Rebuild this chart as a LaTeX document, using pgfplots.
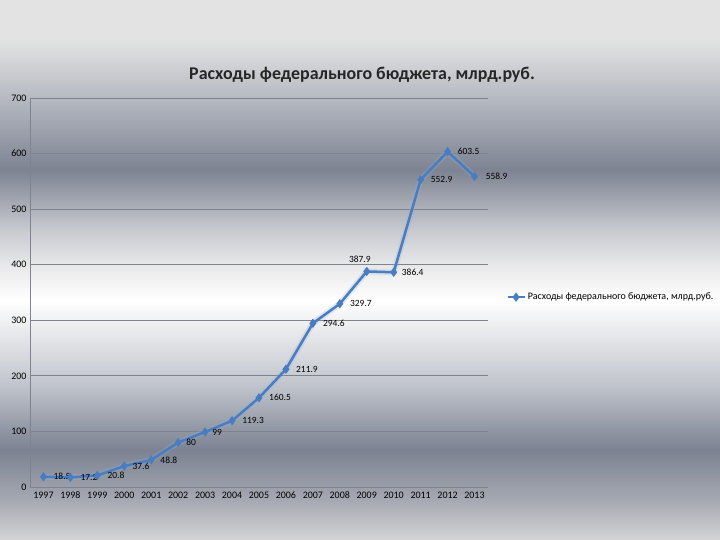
\documentclass[border=0pt]{standalone}
\usepackage{pgfplots}
\pgfplotsset{compat=1.18}
\usepackage{pgfplotstable}
\usepackage{fontspec}
\setmainfont{Carlito}
\definecolor{bgA}{HTML}{E3E3E3}
\definecolor{bgB}{HTML}{E3E3E3}
\definecolor{bgC}{HTML}{B4B8C0}
\definecolor{bgD}{HTML}{7D8392}
\definecolor{bgE}{HTML}{C8CAD0}
\definecolor{bgF}{HTML}{E8E8EA}
\definecolor{bgG}{HTML}{FFFFFF}
\definecolor{bgH}{HTML}{E6E7EA}
\definecolor{bgI}{HTML}{C0C4CC}
\definecolor{bgJ}{HTML}{7C8292}
\definecolor{bgK}{HTML}{A5A9B2}
\definecolor{bgL}{HTML}{D4D4D6}
\definecolor{gridc}{HTML}{7E838D}
\definecolor{linec}{HTML}{4A7DBF}
\pgfdeclareverticalshading{bgsh}{100bp}{color(0bp)=(bgL); color(25bp)=(bgL); color(28.7bp)=(bgK); color(33.33bp)=(bgJ); color(39.35bp)=(bgI); color(43.98bp)=(bgH); color(47.22bp)=(bgG); color(50.46bp)=(bgF); color(53.7bp)=(bgE); color(59.26bp)=(bgD); color(65.74bp)=(bgC); color(71.3bp)=(bgB); color(75bp)=(bgA); color(100bp)=(bgA)}
\pgfplotstableread{
x y lab dx
1997 18.5 18.5 8
1998 17.2 17.2 8
1999 20.8 20.8 8
2000 37.6 37.6 6
2001 48.8 48.8 7
2002 80 80 6
2003 99 99 5
2004 119.3 119.3 8
2005 160.5 160.5 8
2006 211.9 211.9 8
2007 294.6 294.6 8
2008 329.7 329.7 8
2009 387.9 387.9 0
2010 386.4 386.4 6
2011 552.9 552.9 8
2012 603.5 603.5 8
2013 558.9 558.9 9
}\datatable
\begin{document}
\begin{tikzpicture}
\useasboundingbox (0,0) rectangle (720bp,540bp);
\shade[shading=bgsh] (0,0) rectangle (720bp,540bp);
\node[font=\bfseries\fontsize{18}{21}\selectfont, text=black!85] at (362bp,465bp) {Расходы федерального бюджета, млрд.руб.};
\begin{axis}[
  at={(30bp,53bp)}, anchor=south west,
  width=458bp, height=389bp, scale only axis,
  xmin=1996.5, xmax=2013.5, ymin=0, ymax=700,
  xtick={1997,...,2013}, ytick={0,100,...,700},
  x tick label style={/pgf/number format/1000 sep={}},
  /pgf/number format/assume math mode=true,
  tick label style={font=\fontsize{10}{11}\selectfont, text=black},
  xticklabel style={yshift=-1bp, text height=7bp, text depth=0bp},
  major tick length=0pt,
  axis x line*=bottom, axis y line*=left,
  axis line style={gridc, line width=0.8bp, -},
  ymajorgrids, grid style={gridc, line width=0.8bp},
  legend style={draw=none, fill=none, at={(1.033,0.488)}, anchor=west,
    font=\fontsize{10}{11}\selectfont, legend cell align=left},
  clip=false,
]
\addplot[color=linec!60, line width=6bp, opacity=0.25, forget plot] table[x=x, y=y] {\datatable};
\addplot[color=linec, line width=2.5bp, mark=diamond*, mark size=2.6bp,
  mark options={solid, fill=linec},
  point meta=explicit symbolic,
  visualization depends on={\thisrow{dx} \as \labdx},
  nodes near coords,
  every node near coord/.append style={font=\fontsize{9.5}{10}\selectfont, text=black, anchor=west, xshift=\labdx pt, inner sep=1bp},
  coordinate style/.condition={x==2009}{yshift=12bp, xshift=-20bp},
] table[x=x, y=y, meta=lab] {\datatable};
\addlegendentry{Расходы федерального бюджета, млрд.руб.}
\end{axis}
\end{tikzpicture}
\end{document}
